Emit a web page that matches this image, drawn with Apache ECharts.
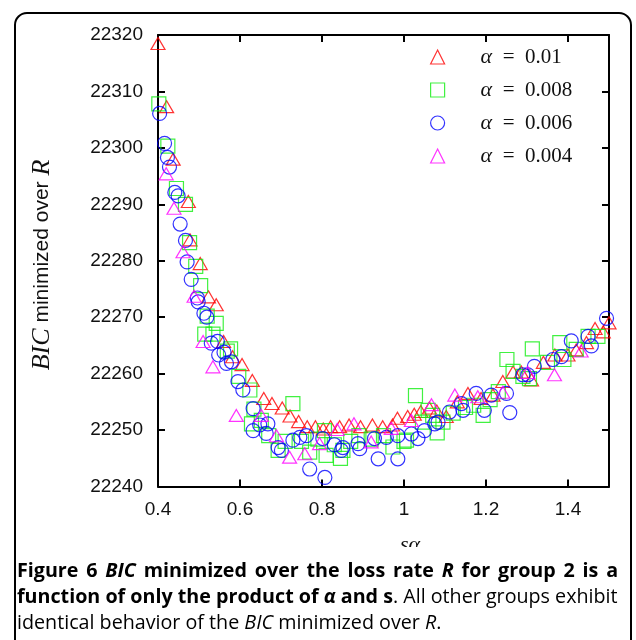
<!DOCTYPE html>
<html><head><meta charset="utf-8">
<script src="https://cdn.jsdelivr.net/npm/echarts@6/dist/echarts.min.js"></script>
<style>html,body{margin:0;padding:0;background:#fff}#c{width:636px;height:640px}</style>
</head><body><div id="c"></div>
<script>
const seriesNames = ['α = 0.01', 'α = 0.008', 'α = 0.006', 'α = 0.004'];
const seriesColors = ['#ff0000', '#11ee11', '#0000ff', '#ff00ff'];
const seriesSymbols = ['triangle', 'rect', 'circle', 'triangle'];

const alpha010 = [[0.400,22318.5],[0.421,22307.3],[0.437,22298],[0.474,22290.5],[0.478,22283.7],[0.503,22279.5],[0.523,22273.6],[0.542,22272.2],[0.560,22265.7],[0.582,22263],[0.605,22261.6],[0.630,22258.8],[0.658,22255.6],[0.678,22254.7],[0.703,22253.9],[0.722,22252.5],[0.743,22251.5],[0.764,22250.6],[0.784,22250.6],[0.803,22250.2],[0.821,22250.6],[0.843,22250.6],[0.866,22250.9],[0.894,22250.6],[0.923,22250.9],[0.948,22250.6],[0.972,22250.9],[0.984,22252.1],[1.009,22252.4],[1.025,22252.8],[1.041,22253.3],[1.062,22253.9],[1.080,22253.4],[1.103,22252.4],[1.130,22255],[1.156,22256.5],[1.188,22255.6],[1.217,22256.2],[1.241,22258.6],[1.266,22260.3],[1.286,22260.3],[1.311,22258.9],[1.340,22262],[1.368,22263.3],[1.400,22263.3],[1.420,22264.2],[1.445,22265.5],[1.466,22268],[1.486,22267.4],[1.500,22269]];

const alpha008 = [[0.402,22307.8],[0.424,22300.3],[0.445,22292.8],[0.467,22290],[0.477,22283.2],[0.492,22279],[0.504,22275.6],[0.514,22267],[0.520,22270.2],[0.534,22267],[0.542,22268.9],[0.569,22264],[0.577,22264.4],[0.597,22259.5],[0.624,22257.1],[0.628,22251.1],[0.634,22253.7],[0.652,22251.7],[0.670,22249],[0.693,22246.4],[0.710,22248],[0.729,22254.7],[0.750,22248],[0.770,22246.1],[0.790,22248.4],[0.806,22249.9],[0.810,22245.5],[0.830,22247.4],[0.845,22245],[0.851,22246.4],[0.870,22248],[0.890,22249],[0.920,22248.4],[0.950,22249],[0.973,22247],[1.000,22248],[1.006,22248.2],[1.028,22256.1],[1.045,22251.4],[1.059,22253.5],[1.070,22252.6],[1.081,22249.5],[1.095,22251.4],[1.120,22253],[1.150,22254],[1.170,22254.4],[1.193,22252.6],[1.210,22255.4],[1.230,22256.8],[1.251,22262.5],[1.266,22260.4],[1.290,22259.5],[1.306,22259.1],[1.313,22264.4],[1.350,22262],[1.380,22265.5],[1.390,22262.5],[1.420,22264.3],[1.449,22266.6],[1.473,22266.6]];

const alpha006 = [[0.404,22306.1],[0.416,22300.8],[0.423,22298.3],[0.428,22296.6],[0.441,22292.1],[0.449,22291.5],[0.454,22286.5],[0.467,22283.6],[0.471,22279.8],[0.481,22276.7],[0.496,22273.4],[0.498,22272.7],[0.512,22270.7],[0.519,22270],[0.530,22265.4],[0.545,22265.7],[0.548,22263.3],[0.561,22263.8],[0.567,22261.8],[0.579,22262.1],[0.595,22258.6],[0.607,22257.1],[0.632,22253.8],[0.632,22249.9],[0.648,22250.9],[0.664,22249.4],[0.668,22251.1],[0.693,22246.9],[0.701,22246.4],[0.729,22248.2],[0.746,22248.7],[0.762,22249],[0.770,22243.1],[0.802,22248.5],[0.807,22241.6],[0.830,22247.4],[0.847,22246.4],[0.851,22246.9],[0.888,22247.6],[0.892,22246.7],[0.928,22248.5],[0.937,22244.9],[0.957,22248.7],[0.985,22244.9],[0.985,22249],[1.018,22249.3],[1.034,22248.5],[1.050,22249.9],[1.075,22251.1],[1.083,22251.4],[1.111,22253.2],[1.140,22254.7],[1.144,22253.5],[1.176,22256.5],[1.196,22253.5],[1.213,22256.2],[1.250,22256.5],[1.258,22253.1],[1.290,22259.8],[1.302,22259.8],[1.318,22261.3],[1.363,22262.5],[1.384,22263],[1.408,22265.8],[1.449,22266.6],[1.457,22264.9],[1.494,22269.8]];

const alpha004 = [[0.398,22302.6],[0.420,22295.4],[0.439,22289.3],[0.461,22281.6],[0.488,22273.7],[0.510,22265.7],[0.534,22261.2],[0.591,22252.6],[0.652,22252.6],[0.689,22249],[0.721,22245.2],[0.758,22245.8],[0.794,22247.6],[0.837,22250.1],[0.878,22251.1],[0.920,22247.9],[0.969,22250.3],[1.018,22251.7],[1.067,22254.5],[1.124,22256.2],[1.180,22255.9],[1.241,22256.7],[1.302,22260.2],[1.367,22259.8],[1.432,22264]];

const seriesData = [alpha010, alpha008, alpha006, alpha004];

const xRange = [0.4, 1.5], xStep = 0.2;
const yRange = [22240, 22320], yStep = 10;

const yName = '{i|BIC} minimized over {i|R}';
const xName = 'sα';
const captionLines = [
  '{b|Figure}{s| }{b|6}{s| }{bi|BIC}{s| }{b|minimized}{s| }{b|over}{s| }{b|the}{s| }{b|loss}{s| }{b|rate}{s| }{bi|R}{s| }{b|for}{s| }{b|group}{s| }{b|2}{s| }{b|is}{s| }{b|a}',
  '{b|function of only the product of }{bi|α}{b| and s}{r|. All other groups exhibit}',
  '{r|identical behavior of the }{ri|BIC}{r| minimized over }{ri|R}{r|.}'
];

const chart = echarts.init(document.getElementById('c'), null, {renderer: 'canvas'});
const axLine = {show: true, onZero: false, lineStyle: {color: '#000', width: 2}};
const axTick = {show: true, inside: true, length: 7, lineStyle: {color: '#000', width: 2}};
const tickFont = {fontFamily: 'Liberation Sans', fontSize: 19, color: '#111'};
const sizes = [[14, 12], 14, 14, [14, 12]];

const capFont = 'Open Sans';
const capSize = 19.7;
const capRich = {
  b: {fontFamily: capFont, fontWeight: 'bold', fontSize: capSize, color: '#000'},
  bi: {fontFamily: capFont, fontWeight: 'bold', fontStyle: 'italic', fontSize: capSize, color: '#000'},
  s: {fontFamily: capFont, fontWeight: 'bold', fontSize: 30, color: '#000'},
  r: {fontFamily: capFont, fontWeight: 'normal', fontSize: capSize, color: '#333'},
  ri: {fontFamily: capFont, fontWeight: 'normal', fontStyle: 'italic', fontSize: capSize, color: '#333'}
};

const option = {
  animation: false,
  backgroundColor: '#fff',
  grid: {left: 158, right: 27, top: 35, bottom: 153.5},
  xAxis: [
    {type: 'value', min: xRange[0], max: xRange[1], interval: xStep, position: 'bottom',
     axisLine: axLine, axisTick: axTick, splitLine: {show: false},
     axisLabel: Object.assign({margin: 14, showMaxLabel: false}, tickFont)},
    {type: 'value', min: xRange[0], max: xRange[1], interval: xStep, position: 'top',
     axisLine: axLine, axisTick: axTick, splitLine: {show: false}, axisLabel: {show: false}}
  ],
  yAxis: [
    {type: 'value', min: yRange[0], max: yRange[1], interval: yStep, position: 'left',
     axisLine: axLine, axisTick: axTick, splitLine: {show: false},
     axisLabel: Object.assign({margin: 15, formatter: v => String(v)}, tickFont)},
    {type: 'value', min: yRange[0], max: yRange[1], interval: yStep, position: 'right',
     axisLine: axLine, axisTick: axTick, splitLine: {show: false}, axisLabel: {show: false}}
  ],
  legend: {
    orient: 'vertical', left: 425, top: 41, itemWidth: 14, itemHeight: 14, itemGap: 11,
    textStyle: {fontFamily: 'Liberation Serif', fontSize: 21, color: '#111',
      rich: {a: {fontFamily: 'Liberation Serif', fontStyle: 'italic', fontSize: 22, color: '#111', padding: [0, 0, 0, 31]}}},
    formatter: n => '{a|α}' + n.slice(1).replace(' = ', '  =  '),
    data: seriesNames.map((n, i) => ({name: n, icon: seriesSymbols[i],
      itemStyle: {color: 'rgba(0,0,0,0)', borderColor: seriesColors[i], borderWidth: 1.2}}))
  },
  series: seriesNames.map((n, i) => ({
    type: 'scatter', name: n, data: seriesData[i], xAxisIndex: 0, yAxisIndex: 0,
    symbol: seriesSymbols[i], symbolSize: sizes[i],
    itemStyle: {color: 'rgba(0,0,0,0)', borderColor: seriesColors[i], borderWidth: 1.2},
    emphasis: {disabled: true}
  })),
  graphic: [
    {type: 'rect', shape: {x: 15, y: 13, width: 616, height: 700, r: 12}, z: 0,
     style: {fill: 'none', stroke: '#000', lineWidth: 2}},
    {type: 'text', x: 42, y: 265, rotation: Math.PI / 2, z: 10,
     style: {text: yName, align: 'center', verticalAlign: 'middle',
       fontFamily: 'Liberation Sans', fontSize: 21, fill: '#111',
       rich: {i: {fontFamily: 'Liberation Serif', fontStyle: 'italic', fontSize: 26, fill: '#111'}}}},
    {type: 'text', x: 410, y: 545, z: 10,
     style: {text: xName, align: 'center', verticalAlign: 'middle',
       fontFamily: 'Liberation Serif', fontStyle: 'italic', fontSize: 22, fill: '#111'}},
    {type: 'rect', shape: {x: 40, y: 547, width: 580, height: 20}, z: 20, style: {fill: '#fff'}},
    {type: 'text', x: 17, y: 571, z: 30,
     style: {text: captionLines[0], verticalAlign: 'middle', rich: capRich}},
    {type: 'text', x: 17, y: 597, z: 30,
     style: {text: captionLines[1], verticalAlign: 'middle', rich: capRich}},
    {type: 'text', x: 17, y: 623, z: 30,
     style: {text: captionLines[2], verticalAlign: 'middle', rich: capRich}}
  ]
};
chart.setOption(option);
</script></body></html>
